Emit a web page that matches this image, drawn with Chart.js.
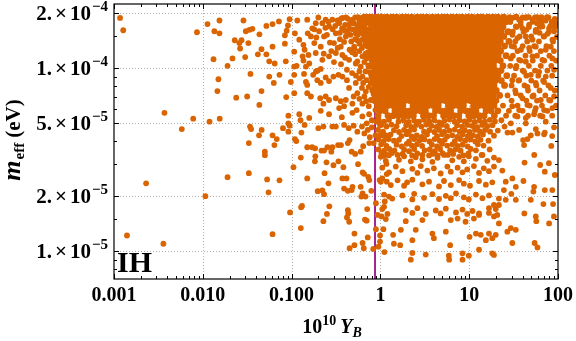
<!DOCTYPE html>
<html>
<head>
<meta charset="utf-8">
<script src="https://cdn.jsdelivr.net/npm/chart.js@4.4.1/dist/chart.umd.min.js"></script>
<style>
  html, body { margin: 0; padding: 0; background: #fff; }
  #plot { display: block; }
</style>
</head>
<body>
<canvas id="plot" width="576" height="341"></canvas>
<script>
// x: 10^10 Y_B, m: m_eff in units of 1e-5 eV
const M_UNIT = 1e-5;
const X_RANGE = [0.001, 100];
const Y_RANGE = [7.06e-6, 2.24e-4];
const BARYON_LINE = 0.87;

const xTickValues = [0.001, 0.01, 0.1, 1, 10, 100];
const xTickLabels = ["0.001", "0.010", "0.100", "1", "10", "100"];
const yTickValues = [1e-5, 2e-5, 5e-5, 1e-4, 2e-4];
const yTickMantissa = ["1.", "2.", "5.", "1.", "2."];
const yTickPower = ["\u22125", "\u22125", "\u22125", "\u22124", "\u22124"];
const yMinorValues = [8e-6, 9e-6, 1.5e-5, 3e-5, 4e-5, 6e-5, 7e-5, 8e-5, 9e-5, 1.5e-4];

const sparseLeft = [
  [0.00117, 18.8], [0.00127, 16.1], [0.0086, 15.7], [0.0037, 5.7], [0.0078, 5.3],
  [0.0058, 4.65], [0.0023, 2.35], [0.0014, 1.22], [0.0036, 1.1],
  [0.0113, 17.4], [0.0154, 18.2], [0.0135, 15.9], [0.0154, 15.5], [0.0287, 18.2],
  [0.0305, 15.9], [0.0335, 16.2], [0.0362, 16.4], [0.0434, 15.3], [0.052, 17.0],
  [0.061, 17.4], [0.072, 18.0], [0.091, 17.1], [0.095, 18.5], [0.088, 16.0],
  [0.084, 15.1], [0.0229, 14.2], [0.0273, 14.2], [0.0258, 13.7], [0.0263, 12.8],
  [0.0326, 13.7], [0.0458, 12.7], [0.061, 13.1], [0.084, 13.6], [0.0132, 11.2],
  [0.0216, 11.3], [0.030, 11.5], [0.0417, 11.9], [0.052, 11.9], [0.056, 10.9],
  [0.0645, 10.6], [0.086, 10.9], [0.019, 10.3], [0.015, 8.7], [0.0344, 9.3],
  [0.056, 9.0], [0.063, 8.3], [0.073, 9.2], [0.0146, 7.5], [0.0458, 7.5],
  [0.0238, 6.9], [0.0316, 7.0], [0.087, 6.95], [0.0433, 6.3], [0.0155, 5.3],
  [0.098, 8.4], [0.092, 5.5], [0.0119, 5.1], [0.034, 4.8], [0.035, 4.65],
  [0.046, 4.6], [0.043, 4.3], [0.061, 4.3], [0.068, 4.1], [0.064, 3.8],
  [0.08, 4.7], [0.092, 5.0], [0.095, 4.85], [0.092, 4.5], [0.033, 3.9],
  [0.05, 3.5], [0.05, 3.35], [0.019, 2.54], [0.033, 2.67], [0.053, 2.47],
  [0.073, 2.44], [0.0107, 2.0], [0.055, 2.1], [0.096, 1.63], [0.061, 1.24]
];

const midBand = [
  [0.116, 18.2], [0.109, 15.5], [0.122, 14.3], [0.107, 12.3], [0.107, 10.2],
  [0.114, 10.3], [0.107, 9.2], [0.107, 7.3], [0.122, 5.6], [0.136, 13.4],
  [0.152, 15.5], [0.14, 12.6], [0.133, 11.6], [0.155, 11.8], [0.136, 11.0],
  [0.145, 10.2], [0.158, 10.6], [0.138, 9.3], [0.175, 9.2], [0.188, 9.6],
  [0.197, 9.7], [0.213, 9.9], [0.145, 8.4], [0.15, 8.1], [0.195, 8.6],
  [0.213, 8.3], [0.242, 8.9], [0.264, 8.5], [0.296, 9.0], [0.337, 9.2],
  [0.373, 9.0], [0.15, 7.3], [0.165, 7.0], [0.21, 6.85], [0.242, 7.0],
  [0.228, 6.4], [0.264, 6.7], [0.315, 6.85], [0.358, 6.6], [0.408, 6.7],
  [0.343, 6.05], [0.39, 6.2], [0.158, 5.35], [0.213, 5.85], [0.264, 5.6],
  [0.368, 5.4], [0.484, 5.7], [0.627, 5.45], [0.746, 5.6],
  [0.15, 18.4], [0.171, 16.5], [0.165, 14.9], [0.187, 17.6], [0.204, 15.9],
  [0.222, 17.6], [0.242, 18.4], [0.232, 14.9], [0.264, 16.9], [0.288, 18.4],
  [0.315, 15.5], [0.30, 13.7], [0.343, 17.6], [0.373, 18.8], [0.358, 13.1],
  [0.408, 14.9], [0.444, 17.3], [0.484, 18.4], [0.528, 15.5], [0.506, 13.1],
  [0.576, 17.6], [0.627, 14.3], [0.685, 18.4], [0.746, 16.2], [0.78, 13.1],
  [0.81, 18.4], [0.627, 11.6], [0.528, 10.6], [0.444, 11.1], [0.373, 11.8],
  [0.315, 12.1], [0.264, 11.6], [0.222, 11.1], [0.187, 12.1], [0.213, 13.1],
  [0.18, 13.7], [0.746, 10.2], [0.627, 9.0], [0.528, 8.3], [0.444, 7.8],
  [0.55, 7.3], [0.685, 7.45], [0.78, 6.7], [0.627, 6.4], [0.484, 6.4],
  [0.78, 8.3], [0.89, 9.0],
  [0.40, 16.0], [0.46, 15.2], [0.55, 16.8], [0.62, 18.8], [0.70, 15.0],
  [0.76, 17.4], [0.84, 16.0], [0.88, 13.8], [0.82, 14.6], [0.67, 13.4],
  [0.58, 12.4], [0.45, 12.6], [0.52, 11.9], [0.72, 12.2], [0.86, 11.5],
  [0.66, 10.8], [0.42, 9.8], [0.48, 9.4], [0.58, 9.6], [0.70, 8.6],
  [0.84, 9.6], [0.88, 7.6], [0.62, 7.8], [0.50, 7.0], [0.42, 8.6],
  [0.36, 10.5], [0.30, 10.8], [0.33, 12.9], [0.27, 13.8], [0.25, 15.2],
  [0.37, 16.5], [0.29, 16.3], [0.43, 18.6], [0.52, 18.9], [0.60, 16.4],
  [0.66, 16.9], [0.79, 18.7], [0.87, 18.9], [0.74, 14.0], [0.80, 11.0],
  [0.55, 14.2], [0.56, 19.0], [0.64, 18.1], [0.71, 19.1], [0.78, 17.6],
  [0.86, 17.9], [0.60, 15.9], [0.73, 15.6], [0.82, 15.2], [0.88, 16.6],
  [0.52, 14.4], [0.66, 14.7], [0.85, 13.4], [0.90, 12.6], [0.62, 12.9],
  [0.76, 12.3], [0.55, 10.9], [0.70, 11.3], [0.82, 10.5], [0.90, 9.4],
  [0.68, 9.6], [0.80, 8.9], [0.58, 8.8], [0.74, 7.9], [0.86, 8.0],
  [0.66, 7.0], [0.85, 6.8], [0.58, 6.8], [0.74, 6.2], [0.88, 5.9],
  [0.54, 5.9], [0.80, 5.2], [0.70, 5.0], [0.90, 5.1],
  [0.47, 17.9], [0.41, 18.9], [0.35, 15.6], [0.33, 18.2], [0.26, 17.9],
  [0.20, 18.9], [0.18, 16.3], [0.39, 13.9], [0.49, 16.3], [0.64, 15.4],
  [0.77, 14.8], [0.68, 12.0], [0.48, 12.2], [0.40, 11.4], [0.60, 10.2],
  [0.76, 9.5], [0.53, 9.1], [0.64, 8.3], [0.84, 7.2], [0.69, 6.6],
  [0.31, 17.0], [0.36, 18.6], [0.40, 17.2], [0.45, 16.4], [0.50, 17.6],
  [0.53, 16.0], [0.58, 18.3], [0.61, 17.3], [0.67, 18.0], [0.69, 16.3],
  [0.73, 17.9], [0.74, 18.8], [0.81, 16.8], [0.83, 19.0], [0.56, 15.2],
  [0.63, 16.0], [0.71, 14.3], [0.47, 14.0], [0.43, 15.6], [0.58, 13.6],
  [0.69, 13.9], [0.79, 12.9], [0.51, 12.7], [0.35, 14.4], [0.28, 12.4],
  [0.24, 16.6], [0.19, 14.7], [0.23, 12.0]
];

const lowMid = [
  [0.105, 2.88], [0.109, 4.1], [0.113, 4.0], [0.126, 5.2], [0.129, 4.45],
  [0.14, 4.9], [0.127, 3.25], [0.15, 3.7], [0.17, 3.7], [0.184, 3.65],
  [0.185, 3.3], [0.183, 3.1], [0.2, 4.7], [0.228, 4.8], [0.288, 4.8],
  [0.315, 4.8], [0.15, 2.5], [0.235, 2.67], [0.26, 2.35], [0.217, 3.55],
  [0.232, 3.55], [0.253, 3.7], [0.28, 3.5], [0.288, 3.7], [0.247, 3.06],
  [0.296, 2.95], [0.337, 3.1], [0.334, 3.8], [0.383, 2.88], [0.197, 2.13],
  [0.222, 2.15], [0.232, 2.05], [0.131, 1.77], [0.128, 1.74], [0.127, 1.34],
  [0.266, 1.76], [0.25, 1.6], [0.228, 1.46], [0.373, 2.5], [0.415, 2.5],
  [0.39, 2.2], [0.43, 2.14], [0.485, 2.25], [0.475, 2.16], [0.43, 1.68],
  [0.435, 1.61], [0.42, 1.53], [0.445, 1.45], [0.51, 1.25], [0.51, 1.08],
  [0.45, 1.04], [0.36, 3.8], [0.43, 3.9], [0.45, 4.05], [0.475, 3.5],
  [0.52, 3.4], [0.6, 3.5], [0.64, 3.75], [0.56, 2.99], [0.63, 2.7],
  [0.655, 2.65], [0.73, 2.55], [0.75, 2.45], [0.6, 2.25], [0.63, 2.07],
  [0.61, 1.99], [0.68, 1.99], [0.79, 2.14], [0.71, 1.7], [0.67, 1.49],
  [0.7, 1.47], [0.63, 1.11], [0.65, 1.04], [0.72, 1.19], [0.83, 1.03],
  [0.62, 4.8], [0.66, 4.4], [0.72, 4.6], [0.76, 4.2], [0.8, 4.75],
  [0.84, 3.9], [0.88, 4.3], [0.75, 3.9], [0.39, 4.9], [0.44, 4.7],
  [0.5, 4.85], [0.55, 4.5],
  [0.99, 4.9], [1.05, 4.3], [1.16, 4.3], [1.04, 3.43], [1.08, 3.32],
  [1.17, 3.0], [1.18, 2.64], [1.05, 2.5], [0.98, 2.45], [1.18, 2.4],
  [0.89, 1.83], [1.12, 1.87], [1.10, 1.75], [0.93, 1.58], [1.03, 1.55],
  [1.15, 1.5], [1.08, 1.32], [0.89, 1.32], [0.99, 1.22], [0.99, 1.13],
  [0.95, 1.06], [1.11, 0.99], [1.25, 1.99]
];

// nearly solid block right of the line, one row per m_eff level
const denseRows = [
  [19.0, [0.66, 0.78, 0.92, 1.04, 1.18, 1.35, 1.52, 1.75, 1.98, 2.25, 2.6, 2.95, 3.35, 3.85, 4.4, 5.0, 5.6, 6.4, 7.3, 8.3, 9.5, 10.8, 12.5, 14.0, 16.2, 18.5, 21, 24.5]],
  [17.9, [0.72, 0.84, 0.97, 1.1, 1.26, 1.43, 1.63, 1.85, 2.1, 2.4, 2.75, 3.1, 3.6, 4.1, 4.7, 5.3, 6.0, 6.9, 7.8, 8.9, 10.2, 11.6, 13.2, 15, 17.2, 19.8, 22.5, 26]],
  [16.8, [0.8, 0.93, 1.05, 1.2, 1.36, 1.55, 1.78, 2.0, 2.28, 2.6, 2.98, 3.4, 3.9, 4.45, 5.05, 5.75, 6.55, 7.45, 8.5, 9.7, 11.1, 12.6, 14.4, 16.4, 18.7, 21.3, 24]],
  [15.8, [0.7, 0.85, 0.98, 1.12, 1.28, 1.46, 1.66, 1.9, 2.15, 2.45, 2.8, 3.2, 3.65, 4.15, 4.75, 5.4, 6.15, 7.0, 8.0, 9.1, 10.4, 11.8, 13.5, 15.4, 17.5, 20, 23, 27.5]],
  [14.9, [0.76, 0.92, 1.04, 1.19, 1.36, 1.54, 1.76, 2.0, 2.28, 2.6, 2.96, 3.38, 3.85, 4.4, 5.0, 5.7, 6.5, 7.4, 8.45, 9.6, 11, 12.5, 14.2, 16.2, 18.5, 21, 24.5]],
  [14.0, [0.83, 0.97, 1.11, 1.26, 1.44, 1.64, 1.86, 2.12, 2.42, 2.76, 3.15, 3.6, 4.1, 4.65, 5.3, 6.05, 6.9, 7.9, 9.0, 10.2, 11.7, 13.3, 15.2, 17.3, 19.7, 22.4, 28]],
  [13.2, [0.72, 0.81, 0.93, 1.06, 1.2, 1.37, 1.56, 1.78, 2.03, 2.31, 2.63, 3.0, 3.42, 3.9, 4.45, 5.05, 5.75, 6.55, 7.5, 8.5, 9.7, 11.1, 12.6, 14.4, 16.4, 18.6, 21.2, 25]],
  [12.4, [0.86, 0.98, 1.12, 1.27, 1.45, 1.65, 1.88, 2.14, 2.44, 2.78, 3.17, 3.62, 4.12, 4.7, 5.35, 6.1, 6.95, 7.9, 9.0, 10.3, 11.7, 13.4, 15.2, 17.4, 19.8, 22.6]],
  [11.7, [0.79, 0.92, 1.05, 1.19, 1.36, 1.55, 1.76, 2.0, 2.29, 2.6, 2.97, 3.38, 3.86, 4.4, 5.0, 5.7, 6.5, 7.45, 8.5, 9.65, 11, 12.5, 14.3, 16.3, 18.5, 21.2, 26]],
  [11.0, [0.85, 0.97, 1.1, 1.26, 1.43, 1.63, 1.86, 2.12, 2.42, 2.75, 3.14, 3.58, 4.08, 4.65, 5.3, 6.05, 6.9, 7.85, 8.95, 10.2, 11.6, 13.2, 15.1, 17.2, 19.6, 22.4]],
  [10.3, [0.74, 0.82, 0.93, 1.06, 1.21, 1.38, 1.57, 1.79, 2.04, 2.32, 2.65, 3.02, 3.44, 3.92, 4.47, 5.1, 5.8, 6.6, 7.55, 8.6, 9.8, 11.2, 12.7, 14.5, 16.5, 18.8, 24]],
  [9.7, [0.87, 0.98, 1.12, 1.28, 1.46, 1.66, 1.89, 2.16, 2.46, 2.8, 3.2, 3.65, 4.16, 4.74, 5.4, 6.15, 7.0, 8.0, 9.1, 10.4, 11.8, 13.5, 15.4, 17.5, 20, 22.8]],
  [9.1, [0.8, 0.92, 1.04, 1.19, 1.35, 1.54, 1.76, 2.0, 2.28, 2.6, 2.96, 3.38, 3.85, 4.38, 5.0, 5.7, 6.5, 7.4, 8.45, 9.6, 11, 12.5, 14.2, 16.2, 18.5, 21, 26.5]],
  [8.55, [0.84, 0.97, 1.11, 1.26, 1.44, 1.64, 1.87, 2.13, 2.43, 2.77, 3.15, 3.6, 4.1, 4.67, 5.32, 6.06, 6.9, 7.9, 9.0, 10.2, 11.7, 13.3, 15.2, 17.3, 19.8, 23]],
  [8.05, [0.94, 1.07, 1.22, 1.39, 1.58, 1.8, 2.05, 2.34, 2.67, 3.04, 3.46, 3.95, 4.5, 5.12, 5.85, 6.65, 7.6, 8.65, 9.85, 11.2, 12.8, 14.6, 16.6, 19, 25]],
  [7.55, [0.82, 0.99, 1.13, 1.29, 1.47, 1.68, 1.91, 2.18, 2.48, 2.83, 3.22, 3.68, 4.19, 4.78, 5.44, 6.2, 7.07, 8.05, 9.2, 10.5, 11.9, 13.6, 15.5, 17.7, 20.2]],
  [7.1, [0.92, 1.05, 1.2, 1.36, 1.55, 1.77, 2.02, 2.3, 2.62, 2.98, 3.4, 3.88, 4.42, 5.04, 5.74, 6.55, 7.46, 8.5, 9.7, 11.05, 12.6, 14.4, 16.4, 18.7, 22]],
  [6.65, [0.86, 0.98, 1.11, 1.27, 1.45, 1.65, 1.88, 2.14, 2.44, 2.78, 3.17, 3.62, 4.12, 4.7, 5.35, 6.1, 6.95, 7.92, 9.0, 10.3, 11.7, 13.4, 15.3, 17.4, 20]],
  [6.25, [0.93, 1.06, 1.21, 1.38, 1.57, 1.79, 2.33, 2.65, 3.02, 3.45, 3.93, 4.48, 5.82, 6.63, 7.56, 8.6, 11.2, 12.8, 14.6, 16.6, 19]],
  [5.85, [0.99, 1.13, 1.46, 1.67, 1.9, 2.17, 2.47, 2.82, 3.21, 4.17, 4.75, 5.42, 6.18, 8.02, 9.15, 10.4, 11.9, 15.5, 17.6, 21]],
  [5.5, [0.94, 1.22, 1.39, 1.59, 1.81, 2.06, 2.35, 3.05, 3.48, 3.97, 5.15, 5.87, 6.7, 7.63, 9.9, 11.3, 12.9, 14.7, 19.2]]
];

// sparse continuation of the block beyond Y_B ~ 25
const blockTail = [
  [33, 19.0], [44, 19.0], [58, 19.0], [75, 19.0], [29, 17.9], [38, 17.9], [52, 17.9], [66, 17.9],
  [85, 17.9], [34, 16.8], [47, 16.8], [62, 16.8], [92, 16.8], [31, 15.8], [41, 15.8], [56, 15.8],
  [79, 15.8], [37, 14.9], [50, 14.9], [69, 14.9], [33, 14.0], [45, 14.0], [61, 14.0], [88, 14.0],
  [30, 13.2], [40, 13.2], [54, 13.2], [74, 13.2], [35, 12.4], [48, 12.4], [64, 12.4], [90, 12.4],
  [31, 11.7], [43, 11.7], [58, 11.7], [80, 11.7], [38, 11.0], [52, 11.0], [70, 11.0], [95, 11.0],
  [29, 10.3], [34, 10.3], [47, 10.3], [64, 10.3], [84, 10.3], [40, 9.7], [55, 9.7], [76, 9.7],
  [32, 9.1], [44, 9.1], [60, 9.1], [86, 9.1], [36, 8.55], [50, 8.55], [68, 8.55], [30, 8.05],
  [42, 8.05], [57, 8.05], [78, 8.05], [33, 7.55], [46, 7.55], [62, 7.55], [92, 7.55], [27, 7.1],
  [38, 7.1], [53, 7.1], [72, 7.1], [30, 6.65], [44, 6.65], [58, 6.65], [82, 6.65], [24, 6.25],
  [35, 6.25], [48, 6.25], [66, 6.25], [95, 6.25], [28, 5.85], [40, 5.85], [55, 5.85], [76, 5.85],
  [26, 5.5], [33, 5.5], [46, 5.5], [63, 5.5], [86, 5.5]
];

// patchier points between 3e-5 and 5e-5, right of the line
const patchyBand = [
  [0.96, 5.2], [1.1, 5.1], [1.25, 5.22], [1.6, 5.12], [1.83, 5.2], [2.08, 5.08], [2.4, 5.18], [2.72, 5.1],
  [3.1, 5.22], [3.55, 5.12], [4.05, 5.2], [4.6, 5.06], [5.25, 5.16], [6.0, 5.24], [6.85, 5.1], [7.8, 5.2],
  [8.9, 5.12], [10.1, 5.22], [11.5, 5.08], [13.1, 5.18], [15.0, 5.1], [17.1, 5.22], [19.5, 5.12], [23, 5.2],
  [1.02, 4.9], [1.17, 4.8], [1.33, 4.92], [1.52, 4.82], [1.95, 4.88], [2.22, 4.78], [2.53, 4.9], [2.9, 4.8],
  [3.3, 4.92], [3.78, 4.84], [4.3, 4.78], [4.9, 4.9], [5.6, 4.82], [7.3, 4.88], [8.3, 4.8], [9.5, 4.9],
  [10.8, 4.84], [12.3, 4.76], [14.0, 4.9], [16.0, 4.82], [18.3, 4.88], [25, 4.8],
  [0.94, 4.6], [1.07, 4.5], [1.42, 4.58], [1.62, 4.48], [1.85, 4.6], [2.1, 4.52], [2.4, 4.62], [3.1, 4.5],
  [3.55, 4.58], [4.05, 4.48], [4.6, 4.6], [5.25, 4.5], [6.0, 4.56], [6.85, 4.62], [7.8, 4.5], [8.9, 4.58],
  [10.1, 4.48], [11.6, 4.6], [13.2, 4.52], [15.1, 4.6], [17.2, 4.5], [21, 4.56],
  [1.0, 4.32], [1.14, 4.24], [1.3, 4.34], [1.73, 4.26], [1.98, 4.36], [2.25, 4.24], [2.57, 4.3], [2.93, 4.22],
  [3.35, 4.34], [4.35, 4.26], [4.95, 4.36], [5.65, 4.24], [6.45, 4.3], [7.35, 4.22], [8.4, 4.34], [9.6, 4.26],
  [11, 4.3], [12.5, 4.24], [14.3, 4.34], [19, 4.28],
  [0.95, 4.08], [1.09, 4.0], [1.24, 4.1], [1.42, 4.02], [1.62, 4.06], [2.1, 3.98], [2.4, 4.1], [2.74, 4.02],
  [3.12, 4.08], [3.57, 3.98], [4.07, 4.1], [4.65, 4.02], [5.3, 4.06], [6.9, 4.0], [7.9, 4.1], [9, 4.02],
  [10.3, 4.08], [11.7, 3.98], [13.4, 4.06], [16.5, 4.02],
  [1.02, 3.84], [1.17, 3.76], [1.52, 3.82], [1.74, 3.74], [1.98, 3.86], [2.26, 3.78], [2.58, 3.84], [2.95, 3.76],
  [3.8, 3.82], [4.35, 3.74], [4.95, 3.86], [5.65, 3.78], [6.45, 3.84], [7.4, 3.76], [8.4, 3.82], [9.6, 3.74],
  [12.5, 3.84], [14.5, 3.78],
  [0.95, 3.6], [1.1, 3.54], [1.26, 3.62], [1.44, 3.56], [1.85, 3.6], [2.1, 3.52], [2.4, 3.62], [3.15, 3.56],
  [3.6, 3.6], [4.1, 3.52], [4.7, 3.62], [6.1, 3.56], [7.0, 3.6], [8.0, 3.54], [10.4, 3.62], [11.9, 3.56], [17, 3.6],
  [1.03, 3.42], [1.18, 3.36], [1.35, 3.44], [1.56, 3.36], [1.78, 3.4], [2.28, 3.34], [2.6, 3.42], [2.97, 3.36],
  [3.85, 3.4], [4.4, 3.34], [5.0, 3.44], [5.75, 3.36], [6.6, 3.4], [8.6, 3.34], [9.8, 3.42], [13.8, 3.36]
];

// thinner spread further down, right of the line
const lowerBand = [
  [1.01, 3.28], [1.15, 3.12], [1.25, 3.35], [1.62, 3.16], [1.85, 3.3], [2.2, 3.1], [2.5, 3.26], [2.97, 3.18],
  [3.53, 3.34], [3.85, 3.08], [4.4, 3.24], [5.2, 3.36], [6.45, 3.14], [7.7, 3.28], [8.7, 3.1], [9.9, 3.3],
  [11.9, 3.2], [14.1, 3.36], [16, 3.12], [19, 3.25], [21.6, 3.15],
  [1.05, 2.86], [1.25, 2.7], [1.49, 2.9], [1.77, 2.74], [2.29, 2.82], [2.61, 2.68], [2.85, 2.92], [3.38, 2.76],
  [4.0, 2.84], [4.77, 2.66], [5.68, 2.9], [6.2, 2.72], [7.4, 2.86], [8.4, 2.7], [9.5, 2.8], [11.3, 2.92],
  [12.9, 2.68], [14.6, 2.84], [16.7, 2.74], [19.0, 2.9], [23.6, 2.76],
  [1.01, 2.4], [1.31, 2.3], [1.56, 2.44], [1.85, 2.28], [2.0, 2.38], [2.29, 2.46], [2.97, 2.32], [3.53, 2.4],
  [4.57, 2.26], [5.2, 2.42], [6.2, 2.3], [7.7, 2.45], [8.7, 2.34], [10.2, 2.28], [12.9, 2.42], [15.4, 2.31],
  [18.2, 2.38],
  [1.1, 2.04], [1.36, 1.94], [1.77, 2.02], [2.29, 1.92], [2.4, 2.06], [3.1, 1.96], [3.85, 2.05], [4.57, 1.93],
  [5.45, 2.01], [6.2, 1.95], [7.1, 2.07], [8.7, 1.97], [9.9, 1.92], [11.9, 2.04], [14.1, 1.95], [16.7, 2.02],
  [21.6, 1.94],
  [1.05, 1.7], [1.2, 1.6], [1.93, 1.68], [2.29, 1.62], [2.61, 1.72], [3.24, 1.6], [4.2, 1.67], [4.77, 1.61],
  [5.45, 1.71], [7.1, 1.63], [8.4, 1.69], [9.5, 1.6], [10.9, 1.66], [12.9, 1.58], [16.7, 1.62], [19.9, 1.7]
];

const rightTail = [
  [30.6, 18.8], [36.5, 18.4], [43.4, 18.8], [51.6, 18.4], [61.3, 18.5],
  [72.8, 18.2], [86.5, 17.6], [33.5, 16.9], [39.8, 16.5], [47.3, 17.3],
  [56.2, 16.2], [66.8, 16.9], [79.4, 16.5], [90.3, 15.9], [30.6, 15.2],
  [34.9, 14.6], [43.4, 14.9], [51.6, 14.3], [69.7, 14.9], [86.5, 14.3],
  [32.0, 13.1], [38.2, 12.6], [47.3, 12.9], [56.2, 13.1], [72.8, 12.6],
  [82.9, 13.1], [29.4, 11.3], [36.5, 11.1], [43.4, 10.85], [51.6, 11.6],
  [66.8, 11.1], [86.5, 11.3], [33.5, 10.0], [41.5, 9.55], [49.4, 9.2],
  [61.3, 9.55], [72.8, 9.0], [90.3, 9.8], [30.6, 8.6], [36.5, 8.6],
  [45.3, 7.9], [56.2, 8.3], [69.7, 8.4], [82.9, 7.8], [33.5, 7.3],
  [39.8, 6.85], [51.6, 7.0], [64, 6.7], [79.4, 6.7], [90.3, 7.0],
  [30.6, 6.2], [36.5, 5.9], [45.3, 6.3], [56.2, 6.05], [69.7, 5.9],
  [86.5, 6.05], [34.9, 5.45], [43.4, 5.35], [53.8, 5.6], [66.8, 5.45],
  [28.5, 19.0], [34, 19.1], [40, 18.9], [47, 19.0], [55, 18.9],
  [65, 19.0], [78, 18.9], [92, 18.6], [38, 17.2], [58, 17.6],
  [82, 17.0], [95, 17.5], [29, 17.9], [44, 16.2], [62, 15.6],
  [97, 14.8], [76, 15.4],
  [29.4, 5.0], [43.4, 5.0], [56.2, 4.65], [72.8, 5.1], [90.3, 4.75],
  [45.3, 4.1], [69.7, 4.35]
];

const lowerTail = [
  [27, 4.45], [30.6, 4.45], [36.5, 4.6], [40.5, 4.05], [41.5, 3.8],
  [49.4, 4.3], [58.7, 4.4], [71, 4.45], [84, 3.76], [86, 4.26],
  [54, 3.36], [42, 3.05], [63, 2.96], [71, 2.72], [92, 2.61],
  [79, 3.03], [30.6, 2.5], [33.5, 2.25], [40.8, 2.42], [29.8, 2.06],
  [33.5, 1.91], [52.8, 2.12], [53.8, 2.25], [71, 2.16], [86.3, 2.16],
  [49.4, 1.91], [68.5, 1.81], [88, 1.81], [41.8, 1.61], [56.2, 1.55],
  [57, 1.46], [79.4, 1.42], [90, 1.55], [54.5, 1.11], [58.7, 1.05],
  [30.6, 1.11], [33.5, 1.31], [26.9, 1.28], [29.4, 1.34], [21.6, 1.42],
  [20.7, 1.58], [19.9, 1.23], [18.2, 0.975], [19.0, 0.955], [25.8, 2.4],
  [24.6, 2.16], [25.8, 1.91], [21.6, 1.79], [19.0, 1.55], [15.4, 1.15],
  [12.9, 1.02], [9.9, 0.946], [10.1, 1.2], [8.4, 0.975], [8.4, 0.9],
  [5.9, 0.946], [5.95, 0.9], [6.1, 1.08], [3.24, 0.96], [2.29, 0.98],
  [2.2, 0.9], [1.67, 1.08], [1.39, 1.23], [1.42, 1.1], [1.93, 1.46],
  [1.7, 1.31], [2.29, 1.15], [2.5, 1.31], [2.97, 1.48], [3.85, 1.25],
  [4.0, 1.18], [5.45, 1.28], [6.2, 1.48], [7.4, 1.51], [9.1, 1.45],
  [11.3, 1.51], [12.9, 1.61], [16.7, 1.72], [19, 1.79], [11.9, 1.25],
  [13.5, 1.23], [16.7, 1.25], [18.2, 1.18]
];

const ORANGE = "rgb(217, 100, 0)";
const PURPLE = "rgb(165, 35, 140)";
const GRID = "#b0b0b0";
const SERIF = '"Liberation Serif", "Times New Roman", serif';

const pairsToPoints = (list) => list.map(([x, m]) => ({ x, y: m * M_UNIT }));
const rowsToPoints = (rows) => rows.flatMap(([m, xs]) => xs.map((x) => ({ x, y: m * M_UNIT })));

function scatterPoints() {
  return [sparseLeft, midBand, lowMid, blockTail, patchyBand, lowerBand, rightTail, lowerTail]
    .flatMap(pairsToPoints);
}

function xMinorValues() {
  const out = [];
  for (let i = 0; i < xTickValues.length - 1; i++) {
    for (let k = 2; k <= 9; k++) out.push(xTickValues[i] * k);
  }
  return out;
}

const crisp = (v) => Math.round(v) + 0.5;

function drawRuns(ctx, runs, x0, y0) {
  let cx = x0;
  runs.forEach((r) => {
    ctx.font = r.f + SERIF;
    ctx.fillText(r.t, cx, y0 + (r.dy || 0));
    cx += ctx.measureText(r.t).width + (r.gap || 0);
  });
}

function runsWidth(ctx, runs) {
  return runs.reduce((w, r) => {
    ctx.font = r.f + SERIF;
    return w + ctx.measureText(r.t).width + (r.gap || 0);
  }, 0);
}

const framePlugin = {
  id: "frame",
  beforeDatasetsDraw(chart) {
    const { ctx, chartArea: a, scales } = chart;
    ctx.save();
    ctx.strokeStyle = GRID;
    ctx.lineWidth = 1;
    ctx.setLineDash([1, 2]);
    xTickValues.forEach((v) => {
      const px = crisp(scales.x.getPixelForValue(v));
      if (px <= a.left + 1 || px >= a.right - 1) return;
      ctx.beginPath();
      ctx.moveTo(px, a.top);
      ctx.lineTo(px, a.bottom);
      ctx.stroke();
    });
    yTickValues.forEach((v) => {
      const py = crisp(scales.y.getPixelForValue(v));
      ctx.beginPath();
      ctx.moveTo(a.left, py);
      ctx.lineTo(a.right, py);
      ctx.stroke();
    });
    ctx.restore();
  },
  afterDatasetsDraw(chart) {
    const { ctx, chartArea: a, scales } = chart;
    ctx.save();
    ctx.strokeStyle = "#000";
    ctx.lineWidth = 1.2;
    ctx.strokeRect(a.left, a.top, a.right - a.left, a.bottom - a.top);

    ctx.lineWidth = 1;
    const tickX = (v, len) => {
      const px = crisp(scales.x.getPixelForValue(v));
      ctx.beginPath();
      ctx.moveTo(px, a.bottom);
      ctx.lineTo(px, a.bottom - len);
      ctx.moveTo(px, a.top);
      ctx.lineTo(px, a.top + len);
      ctx.stroke();
    };
    const tickY = (v, len) => {
      const py = crisp(scales.y.getPixelForValue(v));
      ctx.beginPath();
      ctx.moveTo(a.left, py);
      ctx.lineTo(a.left + len, py);
      ctx.moveTo(a.right, py);
      ctx.lineTo(a.right - len, py);
      ctx.stroke();
    };
    xTickValues.forEach((v) => tickX(v, 5));
    xMinorValues().forEach((v) => tickX(v, 3));
    yTickValues.forEach((v) => tickY(v, 5));
    yMinorValues.forEach((v) => tickY(v, 3));

    ctx.fillStyle = "#000";
    ctx.textBaseline = "alphabetic";

    // panel tag
    ctx.font = "bold 30px " + SERIF;
    ctx.textAlign = "left";
    ctx.fillText("IH", a.left + 3, 272);

    // x tick labels
    ctx.font = "bold 20px " + SERIF;
    ctx.textAlign = "center";
    xTickValues.forEach((v, i) => {
      ctx.fillText(xTickLabels[i], scales.x.getPixelForValue(v), 301);
    });

    // y tick labels: mantissa x 10^power, right edge at x = 108
    ctx.textAlign = "left";
    yTickValues.forEach((v, i) => {
      const py = scales.y.getPixelForValue(v);
      const runs = [
        { t: yTickMantissa[i], f: "bold 21px ", gap: 3 },
        { t: "\u00d7", f: "bold 21px ", gap: 3 },
        { t: "10", f: "bold 21px ", gap: 1 },
        { t: yTickPower[i], f: "bold 15px ", dy: -9 }
      ];
      drawRuns(ctx, runs, 108 - runsWidth(ctx, runs), py + 7);
    });

    // x title: 10^10 Y_B
    const xt = [
      { t: "10", f: "bold 20px " },
      { t: "10", f: "bold 14px ", dy: -8, gap: 4 },
      { t: "Y", f: "italic bold 20px " },
      { t: "B", f: "italic bold 14px ", dy: 4 }
    ];
    drawRuns(ctx, xt, 332 - runsWidth(ctx, xt) / 2, 333);

    // y title: m_eff (eV), rotated
    ctx.translate(20, 140);
    ctx.rotate(-Math.PI / 2);
    const yt = [
      { t: "m", f: "italic bold 26px ", gap: 1 },
      { t: "eff", f: "bold 15px ", dy: 4, gap: 5 },
      { t: "(eV)", f: "bold 21px " }
    ];
    drawRuns(ctx, yt, -runsWidth(ctx, yt) / 2, 0);
    ctx.restore();
  }
};

new Chart(document.getElementById("plot"), {
  type: "scatter",
  data: {
    datasets: [
      {
        data: scatterPoints(),
        pointRadius: 2.9,
        pointHoverRadius: 2.9,
        backgroundColor: ORANGE,
        borderWidth: 0,
        order: 0
      },
      {
        // the crowded core, drawn with slightly larger marks so it reads as solid
        data: rowsToPoints(denseRows),
        pointRadius: 3.4,
        pointHoverRadius: 3.4,
        backgroundColor: ORANGE,
        borderWidth: 0,
        order: 0
      },
      {
        type: "line",
        data: [
          { x: BARYON_LINE, y: 5e-6 },
          { x: BARYON_LINE, y: 3e-4 }
        ],
        borderColor: PURPLE,
        borderWidth: 2,
        pointRadius: 0,
        order: 1
      }
    ]
  },
  options: {
    responsive: false,
    animation: false,
    events: [],
    layout: { autoPadding: false, padding: { top: 4, right: 18, left: 0, bottom: 0 } },
    plugins: { legend: { display: false }, tooltip: { enabled: false } },
    scales: {
      x: {
        type: "logarithmic",
        min: X_RANGE[0],
        max: X_RANGE[1],
        ticks: { display: false },
        grid: { display: false },
        border: { display: false },
        afterFit(s) { s.height = 62; }
      },
      y: {
        type: "logarithmic",
        min: Y_RANGE[0],
        max: Y_RANGE[1],
        ticks: { display: false },
        grid: { display: false },
        border: { display: false },
        afterFit(s) { s.width = 114; }
      }
    }
  },
  plugins: [framePlugin]
});
</script>
</body>
</html>
